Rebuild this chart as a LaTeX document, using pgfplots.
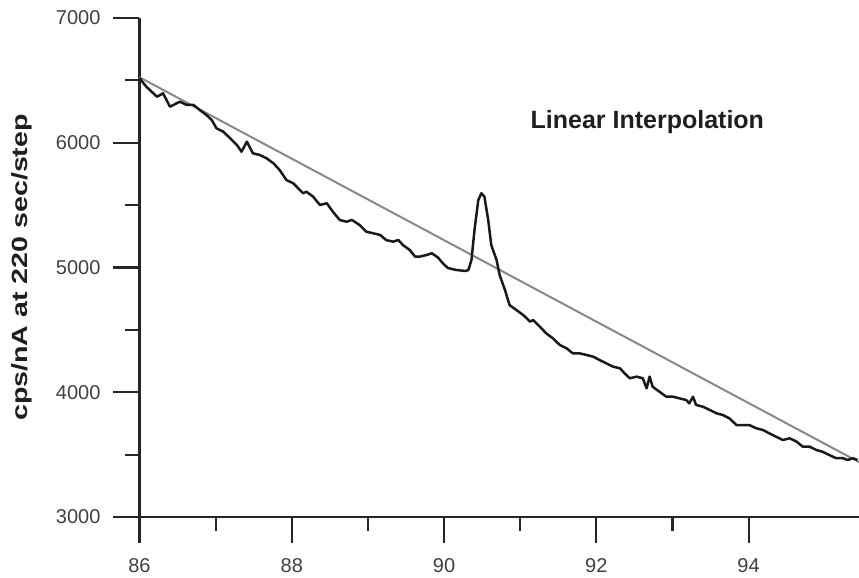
\documentclass[border=0pt]{standalone}
\usepackage{fontspec}
\setmainfont{Liberation Sans}
\usepackage{graphicx}
\usepackage{pgfplots}
\pgfplotsset{compat=1.18}
\definecolor{ticktext}{HTML}{404040}
\definecolor{interp}{HTML}{888888}

\begin{document}
\begin{tikzpicture}
\begin{axis}[
  width=359.75pt, height=249.5pt, scale only axis,
  xmin=86, xmax=95.45, ymin=3000, ymax=7000,
  axis lines*=left,
  axis line style={line width=1.1pt, color=black!85},
  xtick={86,88,90,92,94}, ytick={3000,4000,5000,6000,7000},
  minor x tick num=1, minor y tick num=1,
  tick align=outside,
  major tick length=13pt, minor tick length=7pt,
  tick style={line width=1.1pt, color=black!85},
  /pgf/number format/1000 sep={},
  /pgf/number format/assume math mode=true,
  tick label style={font=\fontsize{10}{12}\selectfont, color=ticktext},
  xticklabel style={yshift=-4pt},
  yticklabel style={xshift=-3pt},
  ylabel={\scalebox{1.3}[1]{\bfseries cps/nA at 220 sec/step}},
  every axis y label/.style={at={(rel axis cs:0,0.5)}, xshift=-59pt, rotate=90, anchor=center,
    font=\fontsize{11}{13}\selectfont, color=black!88},
  clip=true,
]
\addplot[color=interp, line width=1pt] coordinates {(86,6525) (95.45,3440)};
\addplot[color=black!90, line width=1.25pt, line join=round] table[row sep=\\] {
x y \\
86.00 6517 \\ 86.09 6449 \\ 86.23 6369 \\ 86.31 6396 \\ 86.40 6289 \\
86.53 6329 \\ 86.62 6303 \\ 86.71 6303 \\ 86.79 6263 \\ 86.88 6222 \\
86.95 6182 \\ 87.01 6116 \\ 87.10 6089 \\ 87.19 6036 \\ 87.28 5982 \\
87.34 5928 \\ 87.41 6008 \\ 87.49 5915 \\ 87.58 5902 \\ 87.67 5875 \\
87.76 5835 \\ 87.84 5782 \\ 87.93 5701 \\ 88.02 5675 \\ 88.15 5595 \\
88.19 5608 \\ 88.28 5568 \\ 88.37 5501 \\ 88.46 5515 \\ 88.54 5447 \\
88.63 5381 \\ 88.72 5367 \\ 88.79 5381 \\ 88.89 5341 \\ 88.98 5287 \\
89.07 5274 \\ 89.16 5261 \\ 89.24 5220 \\ 89.33 5207 \\ 89.40 5220 \\
89.46 5180 \\ 89.55 5140 \\ 89.62 5087 \\ 89.68 5087 \\ 89.77 5100 \\
89.84 5114 \\ 89.92 5080 \\ 89.99 5030 \\ 90.05 4996 \\ 90.16 4980 \\
90.28 4972 \\ 90.32 4980 \\ 90.36 5060 \\ 90.40 5301 \\ 90.45 5541 \\
90.49 5595 \\ 90.53 5568 \\ 90.58 5381 \\ 90.62 5180 \\ 90.69 5060 \\
90.73 4940 \\ 90.80 4820 \\ 90.86 4699 \\ 90.95 4659 \\ 91.04 4619 \\
91.13 4566 \\ 91.17 4579 \\ 91.26 4525 \\ 91.34 4473 \\ 91.43 4432 \\
91.52 4379 \\ 91.61 4352 \\ 91.69 4312 \\ 91.78 4312 \\ 91.87 4299 \\
91.96 4285 \\ 92.04 4259 \\ 92.13 4232 \\ 92.22 4205 \\ 92.31 4192 \\
92.37 4152 \\ 92.44 4112 \\ 92.53 4125 \\ 92.61 4112 \\ 92.66 4032 \\
92.70 4125 \\ 92.74 4044 \\ 92.83 4004 \\ 92.92 3964 \\ 93.01 3964 \\
93.09 3951 \\ 93.18 3938 \\ 93.22 3911 \\ 93.27 3964 \\ 93.31 3898 \\
93.40 3884 \\ 93.49 3858 \\ 93.58 3831 \\ 93.66 3818 \\ 93.75 3790 \\
93.84 3737 \\ 93.92 3737 \\ 94.01 3737 \\ 94.10 3711 \\ 94.19 3697 \\
94.27 3671 \\ 94.36 3644 \\ 94.45 3617 \\ 94.54 3631 \\ 94.63 3604 \\
94.71 3564 \\ 94.80 3564 \\ 94.89 3537 \\ 94.97 3523 \\ 95.06 3497 \\
95.15 3471 \\ 95.24 3471 \\ 95.30 3457 \\ 95.37 3471 \\ 95.43 3457 \\
};
\node[font=\fontsize{12.5}{14}\selectfont\bfseries, color=black!88] at (axis cs:92.67,6166) {Linear Interpolation};
\coordinate (ll) at (rel axis cs:0,0);
\coordinate (ur) at (rel axis cs:1,1);
\end{axis}
\pgfresetboundingbox
\path ([shift={(-69.75pt,-30.5pt)}]ll) rectangle ([shift={(0pt,9pt)}]ur);
\end{tikzpicture}
\end{document}
